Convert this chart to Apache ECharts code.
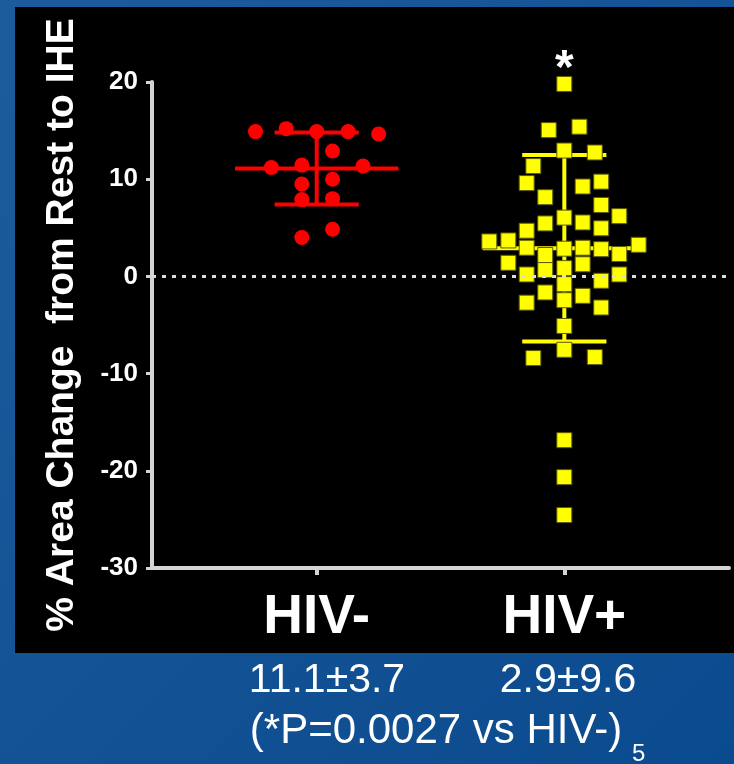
<!DOCTYPE html>
<html>
<head>
<meta charset="utf-8">
<script src="https://cdn.jsdelivr.net/npm/echarts@6/dist/echarts.min.js"></script>
<style>
  html, body { margin: 0; padding: 0; }
  #chart { width: 734px; height: 764px; }
</style>
</head>
<body>
<div id="chart"></div>
<script>
// groups on the x axis (value 1 and 2)
const groups = ["HIV-", "HIV+"];
const groupMeans = [11.1, 2.9];
const groupSds = [3.7, 9.6];

// HIV- : % change values and their horizontal jitter (x units)
const hivNegValues = [14.9, 15.2, 14.9, 14.9, 14.65, 12.9, 11.2, 11.45, 11.35, 9.5, 10.0, 7.9, 8.0, 4.0, 4.85];
const hivNegOffsets = [-0.247, -0.123, 0, 0.127, 0.25, 0.064, -0.183, -0.06, 0.187, -0.06, 0.064, -0.06, 0.064, -0.06, 0.064];

// HIV+
const hivPosValues = [19.8, 15.05, 15.4, 12.95, 12.75, 11.35, 9.6, 9.25, 9.75, 8.15, 7.35, 6.2, 6.05, 5.45, 5.55,
  4.7, 4.95, 3.6, 3.7, 2.95, 2.85, 2.95, 2.8, 3.25, 2.2, 2.3, 1.4, 1.25, 0.85, 0.65, 0.2, 0.2,
  -0.8, -0.45, -1.65, -2.0, -2.45, -2.7, -3.2, -5.1, -7.55, -8.4, -8.3, -16.85, -20.65, -24.55];
const hivPosOffsets = [0, -0.063, 0.061, 0, 0.123, -0.125, -0.152, 0.074, 0.149, -0.077, 0.149, 0.222, 0, -0.077, 0.074,
  -0.152, 0.149, -0.303, -0.226, -0.152, 0, 0.074, 0.149, 0.30, -0.077, 0.222, -0.226, 0.074, 0, -0.077, -0.152, 0.222,
  0, 0.149, -0.077, 0.074, 0, -0.152, 0.149, 0, 0, -0.125, 0.123, 0, 0, 0];

const yMin = -30, yMax = 20, yStep = 10;
const summaryTexts = ["11.1±3.7", "2.9±9.6"];
const pText = "(*P=0.0027 vs HIV-)";

const FONT = "Liberation Sans, Arial, sans-serif";
const AXIS_GREY = "#d4d4d4";

const negData = hivNegValues.map((v, i) => [1 + hivNegOffsets[i], v]);
const posData = hivPosValues.map((v, i) => {
  const item = { value: [2 + hivPosOffsets[i], v] };
  if (i === 0) {
    // significance star sits on the top point
    item.label = {
      show: true, position: "top", distance: -18, formatter: "*",
      color: "#fff", fontSize: 48, fontWeight: "bold", fontFamily: FONT,
    };
  }
  return item;
});
const barData = groups.map((g, i) => [i + 1, groupMeans[i], groupSds[i]]);
const barColors = ["#ff0000", "#ffff00"];

function renderBars(params, api) {
  const x = api.value(0);
  const m = api.value(1);
  const sd = api.value(2);
  const color = barColors[params.dataIndex];
  const style = { stroke: color, lineWidth: 4 };
  const meanL = api.coord([x - 0.33, m]);
  const meanR = api.coord([x + 0.33, m]);
  const top = api.coord([x, m + sd]);
  const bot = api.coord([x, m - sd]);
  const capL = api.coord([x - 0.17, m])[0];
  const capR = api.coord([x + 0.17, m])[0];
  return {
    type: "group",
    children: [
      { type: "line", shape: { x1: meanL[0], y1: meanL[1], x2: meanR[0], y2: meanR[1] }, style: style },
      { type: "line", shape: { x1: top[0], y1: top[1], x2: bot[0], y2: bot[1] }, style: style },
      { type: "line", shape: { x1: capL, y1: top[1], x2: capR, y2: top[1] }, style: style },
      { type: "line", shape: { x1: capL, y1: bot[1], x2: capR, y2: bot[1] }, style: style },
    ],
  };
}

const chart = echarts.init(document.getElementById("chart"));
const option = {
  animation: false,
  backgroundColor: {
    type: "linear", x: 0, y: 0, x2: 1, y2: 1,
    colorStops: [
      { offset: 0, color: "#1d5c9c" },
      { offset: 1, color: "#0a4a8e" },
    ],
  },
  textStyle: { fontFamily: FONT },
  graphic: [
    { type: "rect", z: -10, shape: { x: 15, y: 7, width: 719, height: 646 }, style: { fill: "#000" } },
    { type: "text", x: 327, y: 681, style: { text: summaryTexts[0], fill: "#fff", font: "41px " + FONT, align: "center", verticalAlign: "middle" } },
    { type: "text", x: 568, y: 681, style: { text: summaryTexts[1], fill: "#fff", font: "41px " + FONT, align: "center", verticalAlign: "middle" } },
    { type: "text", x: 436, y: 731, style: { text: pText, fill: "#fff", font: "42px " + FONT, align: "center", verticalAlign: "middle" } },
    { type: "text", x: 632, y: 754, style: { text: "5", fill: "#fff", font: "24px " + FONT, align: "left", verticalAlign: "middle" } },
  ],
  grid: { left: 152, right: 5, top: 82, bottom: 196 },
  xAxis: {
    type: "value",
    min: 0.335,
    max: 2.665,
    axisLine: { onZero: false, lineStyle: { color: AXIS_GREY, width: 4 } },
    axisTick: { show: true, customValues: [1, 2], length: 7, lineStyle: { color: AXIS_GREY, width: 4 } },
    axisLabel: {
      customValues: [1, 2],
      formatter: (v) => groups[Math.round(v) - 1],
      color: "#fff", fontSize: 55, fontWeight: "bold", margin: 22,
    },
    splitLine: { show: false },
  },
  yAxis: {
    type: "value",
    min: yMin,
    max: yMax,
    interval: yStep,
    name: "% Area Change  from Rest to IHE",
    nameLocation: "middle",
    nameRotate: 90,
    nameGap: 70,
    nameTextStyle: { color: "#fff", fontSize: 39, fontWeight: "bold" },
    axisLine: { show: true, onZero: false, lineStyle: { color: AXIS_GREY, width: 4 } },
    axisTick: { show: true, length: 6, lineStyle: { color: AXIS_GREY, width: 3 } },
    axisLabel: { color: "#fff", fontSize: 26, fontWeight: "bold", margin: 14 },
    splitLine: { show: false },
  },
  series: [
    {
      type: "custom",
      renderItem: renderBars,
      data: barData,
      z: 2,
      markLine: {
        silent: true,
        symbol: "none",
        label: { show: false },
        lineStyle: { color: "#dcdcdc", width: 3, type: [4, 6] },
        data: [{ yAxis: 0 }],
      },
    },
    {
      name: "HIV-",
      type: "scatter",
      symbol: "circle",
      symbolSize: 15,
      itemStyle: { color: "#ff0000", opacity: 1 },
      data: negData,
      z: 3,
    },
    {
      name: "HIV+",
      type: "scatter",
      symbol: "rect",
      symbolSize: 15,
      itemStyle: { color: "#ffff00", borderColor: "#5a5a00", borderWidth: 1, opacity: 1 },
      data: posData,
      z: 3,
    },
  ],
};
chart.setOption(option);
</script>
</body>
</html>
